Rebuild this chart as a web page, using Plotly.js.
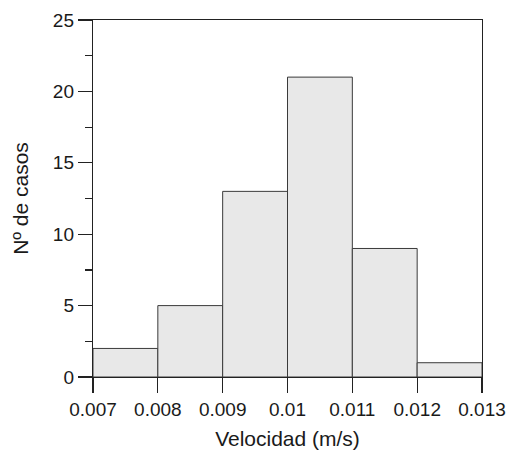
<!DOCTYPE html>
<html>
<head>
<meta charset="utf-8">
<script src="https://cdn.plot.ly/plotly-3.0.1.min.js"></script>
<style>html,body{margin:0;padding:0;background:#fff;}</style>
</head>
<body>
<div id="chart" style="width:508px;height:460px;"></div>
<script>
const binEdges = [0.007, 0.008, 0.009, 0.010, 0.011, 0.012, 0.013];
const counts = [2, 5, 13, 21, 9, 1];
const xTickVals = [0.007, 0.008, 0.009, 0.010, 0.011, 0.012, 0.013];
const xTickText = ['0.007', '0.008', '0.009', '0.01', '0.011', '0.012', '0.013'];
const yTickVals = [0, 5, 10, 15, 20, 25];

const centers = counts.map((c, i) => (binEdges[i] + binEdges[i + 1]) / 2);
const widths = counts.map((c, i) => binEdges[i + 1] - binEdges[i]);

const trace = {
  type: 'bar',
  x: centers,
  y: counts,
  width: widths,
  marker: { color: '#e8e8e8', line: { color: '#3a3a3a', width: 1 } },
  hoverinfo: 'x+y'
};

const fontFam = 'Liberation Sans, Arial, sans-serif';
const layout = {
  width: 508, height: 460,
  margin: { l: 93, r: 26, t: 20, b: 83 },
  paper_bgcolor: '#fff', plot_bgcolor: '#fff',
  showlegend: false,
  font: { family: fontFam, color: '#1a1a1a', size: 19 },
  xaxis: {
    range: [0.007, 0.013],
    tickvals: xTickVals, ticktext: xTickText,
    ticks: 'outside', ticklen: 15, tickwidth: 1.2, tickcolor: '#222',
    showline: true, linecolor: '#222', linewidth: 1.2, mirror: true,
    showgrid: false, zeroline: false,
    tickfont: { size: 19, family: fontFam },
    title: { text: 'Velocidad (m/s)', font: { size: 21, family: fontFam }, standoff: 12 }
  },
  yaxis: {
    range: [0, 25],
    tickvals: yTickVals,
    ticks: 'outside', ticklen: 14, tickwidth: 1.2, tickcolor: '#222',
    minor: { dtick: 2.5, tick0: 0, ticks: 'outside', ticklen: 7, tickwidth: 1.2, tickcolor: '#222' },
    showline: true, linecolor: '#222', linewidth: 1.2, mirror: true,
    showgrid: false, zeroline: false,
    tickfont: { size: 19, family: fontFam },
    title: { text: 'Nº de casos', font: { size: 21, family: fontFam }, standoff: 18 }
  },
  bargap: 0
};

Plotly.newPlot('chart', [trace], layout, { displayModeBar: false, staticPlot: true });
</script>
</body>
</html>
